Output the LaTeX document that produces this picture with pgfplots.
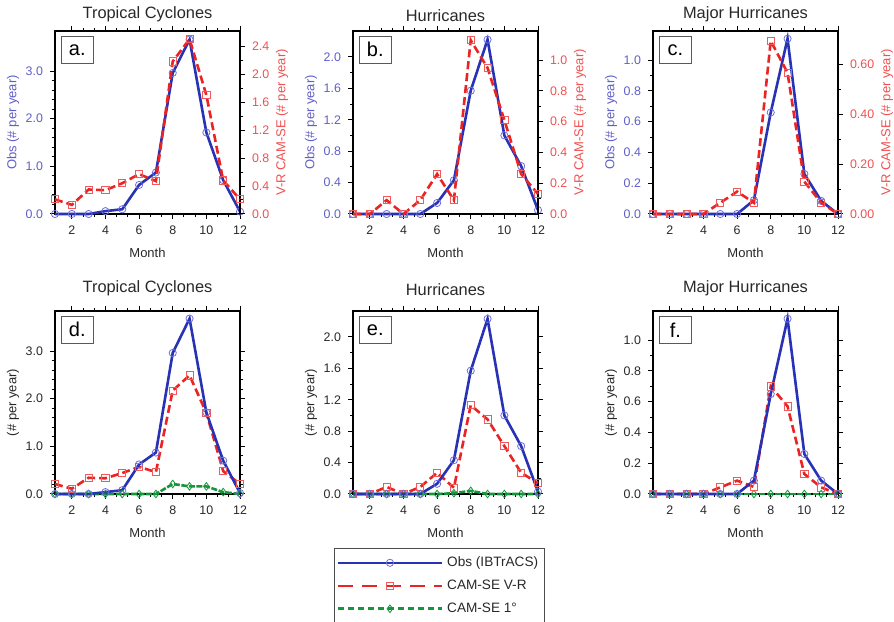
\documentclass[border=0pt]{standalone}
\usepackage{fontspec}
\setmainfont{Liberation Sans}
\usepackage{pgfplots}
\pgfplotsset{compat=1.18}

\definecolor{obsblue}{RGB}{40,50,180}
\definecolor{obsmark}{RGB}{110,110,220}
\definecolor{vrred}{RGB}{235,35,35}
\definecolor{vrmark}{RGB}{240,90,90}
\definecolor{onegreen}{RGB}{20,150,60}
\definecolor{lblblue}{RGB}{95,95,200}
\definecolor{lblred}{RGB}{240,80,80}
\definecolor{txt}{RGB}{40,40,40}

\tikzset{
  panellabel/.style={draw=black!65, line width=0.4pt, fill=white, anchor=north west,
    font=\fontsize{10}{11}\selectfont, minimum width=16pt, minimum height=13.5pt, inner sep=1pt},
}

\pgfplotsset{
  panel/.style={
    scale only axis, width=92.5pt, height=91.5pt,
    xmin=1, xmax=12, xtick={2,4,...,12}, minor x tick num=2,
    ymin=0, clip=false,
    tick align=outside, major tick length=2.5pt, minor tick length=1.5pt,
    tick style={black, line width=0.5pt},
    axis line style={line width=0.8pt},
    tick label style={font=\fontsize{6.2}{7}\selectfont, txt},
    label style={font=\fontsize{6.5}{7}\selectfont, txt},
    title style={font=\fontsize{8.2}{9}\selectfont, txt},
    ylabel shift=-3.5pt,
    /pgf/number format/assume math mode=true,
    yticklabel style={/pgf/number format/fixed, /pgf/number format/fixed zerofill, /pgf/number format/precision=1},
    xticklabel style={/pgf/number format/precision=0},
    xlabel={Month},
  },
  obs/.style={obsblue, solid, line width=1.3pt, mark=o, mark size=1.8pt,
    mark options={solid, line width=0.4pt, obsmark}},
  vr/.style={vrred, line width=1.3pt, dash pattern=on 4pt off 2pt, mark=square, mark size=1.8pt,
    mark options={solid, line width=0.4pt, vrmark}},
  one/.style={onegreen, line width=1.3pt, dash pattern=on 3pt off 0.8pt, mark=diamond, mark size=1.9pt,
    mark options={solid, line width=0.4pt, onegreen}},
  obsleg/.style={legend image code/.code={\draw[mark repeat=2, mark phase=2, ##1] plot coordinates {(0pt,0pt) (26pt,0pt) (52pt,0pt)};}},
  vrleg/.style={legend image code/.code={\draw[mark repeat=2, mark phase=2, ##1, dash pattern=on 7.5pt off 4.5pt] plot coordinates {(0pt,0pt) (26pt,0pt) (52pt,0pt)};}},
  oneleg/.style={legend image code/.code={\draw[mark repeat=2, mark phase=2, ##1, dash pattern=on 3pt off 2pt] plot coordinates {(0pt,0pt) (26pt,0pt) (52pt,0pt)};}},
  leftax/.style={panel, ytick pos=left, ylabel={Obs (\# per year)},
    ylabel style={lblblue}, yticklabel style={lblblue}, title style={yshift=-5pt}},
  rightax/.style={panel, axis y line*=right, axis x line=none, xlabel={},
    ylabel={V-R CAM-SE (\# per year)}, ylabel style={lblred}, yticklabel style={lblred}},
  botax/.style={panel, ylabel={(\# per year)}, title style={yshift=-2pt}},
}

\begin{document}
\begin{tikzpicture}
\path[use as bounding box] (0,0) rectangle (447pt,310.5pt);

% ---------- a. ----------
\begin{axis}[leftax, at={(27.5pt,203.5pt)}, anchor=south west,
    ymax=3.84, ytick={0,1,2,3}, minor y tick num=4, title={Tropical Cyclones}]
  \addplot[obs] coordinates {(1,0) (2,0) (3,0) (4,0.06) (5,0.1) (6,0.61) (7,0.87) (8,2.96) (9,3.66) (10,1.71) (11,0.71) (12,0.05)};
  \node[panellabel] at (rel axis cs:0.032,0.973) {a.};
\end{axis}
\begin{axis}[rightax, at={(27.5pt,203.5pt)}, anchor=south west,
    ymax=2.615, ytick={0,0.4,...,2.4}, minor y tick num=1]
  \addplot[vr] coordinates {(1,0.21) (2,0.13) (3,0.35) (4,0.34) (5,0.44) (6,0.57) (7,0.47) (8,2.18) (9,2.50) (10,1.70) (11,0.48) (12,0.21)};
\end{axis}

% ---------- b. ----------
\begin{axis}[leftax, at={(176.5pt,203.5pt)}, anchor=south west,
    ymax=2.33, ytick={0,0.4,...,2.0}, minor y tick num=1, title={Hurricanes}]
  \addplot[obs] coordinates {(1,0) (2,0) (3,0) (4,0) (5,0) (6,0.14) (7,0.43) (8,1.57) (9,2.22) (10,1.0) (11,0.61) (12,0.05)};
  \node[panellabel] at (rel axis cs:0.032,0.973) {b.};
\end{axis}
\begin{axis}[rightax, at={(176.5pt,203.5pt)}, anchor=south west,
    ymax=1.19, ytick={0,0.2,...,1.0}, minor y tick num=1]
  \addplot[vr] coordinates {(1,0) (2,0) (3,0.09) (4,0) (5,0.09) (6,0.26) (7,0.09) (8,1.13) (9,0.95) (10,0.61) (11,0.26) (12,0.13)};
\end{axis}

% ---------- c. ----------
\begin{axis}[leftax, at={(326.5pt,203.5pt)}, anchor=south west,
    ymax=1.19, ytick={0,0.2,...,1.0}, minor y tick num=1, title={Major Hurricanes}]
  \addplot[obs] coordinates {(1,0) (2,0) (3,0) (4,0) (5,0) (6,0) (7,0.09) (8,0.66) (9,1.14) (10,0.26) (11,0.085) (12,0)};
  \node[panellabel] at (rel axis cs:0.032,0.973) {c.};
\end{axis}
\begin{axis}[rightax, at={(326.5pt,203.5pt)}, anchor=south west,
    ymax=0.735, ytick={0,0.2,0.4,0.6}, minor y tick num=1,
    yticklabel style={/pgf/number format/precision=2}]
  \addplot[vr] coordinates {(1,0) (2,0) (3,0) (4,0) (5,0.045) (6,0.09) (7,0.045) (8,0.695) (9,0.567) (10,0.13) (11,0.045) (12,0)};
\end{axis}

% ---------- d. ----------
\begin{axis}[botax, at={(27.5pt,63.5pt)}, anchor=south west,
    ymax=3.84, ytick={0,1,2,3}, minor y tick num=4, title={Tropical Cyclones}]
  \addplot[one] coordinates {(1,0) (2,0) (3,0) (4,0) (5,0) (6,0) (7,0) (8,0.21) (9,0.16) (10,0.16) (11,0.04) (12,0)};
  \addplot[vr] coordinates {(1,0.21) (2,0.11) (3,0.34) (4,0.33) (5,0.44) (6,0.57) (7,0.46) (8,2.17) (9,2.49) (10,1.70) (11,0.48) (12,0.21)};
  \addplot[obs] coordinates {(1,0) (2,0) (3,0) (4,0.04) (5,0.08) (6,0.62) (7,0.87) (8,2.96) (9,3.68) (10,1.71) (11,0.70) (12,0.02)};
  \node[panellabel] at (rel axis cs:0.032,0.973) {d.};
\end{axis}

% ---------- e. ----------
\begin{axis}[botax, at={(176.5pt,63.5pt)}, anchor=south west,
    ymax=2.33, ytick={0,0.4,...,2.0}, minor y tick num=1, title={Hurricanes},
    legend style={at={(0.467,-0.295)}, anchor=north, draw=black!70, line width=0.4pt,
      font=\fontsize{6.8}{7.5}\selectfont, text=txt, row sep=1.2pt, inner xsep=1pt, inner ysep=2pt},
    legend cell align=left, reverse legend]
  \addplot[one, oneleg]
    coordinates {(1,0) (2,0) (3,0) (4,0) (5,0) (6,0) (7,0.01) (8,0.04) (9,0) (10,0) (11,0) (12,0)};
  \addlegendentry{CAM-SE 1°}
  \addplot[vr, vrleg]
    coordinates {(1,0) (2,0) (3,0.09) (4,0) (5,0.09) (6,0.27) (7,0.08) (8,1.13) (9,0.95) (10,0.61) (11,0.27) (12,0.14)};
  \addlegendentry{CAM-SE V-R}
  \addplot[obs, obsleg] coordinates {(1,0) (2,0) (3,0) (4,0) (5,0) (6,0.13) (7,0.43) (8,1.57) (9,2.23) (10,1.0) (11,0.61) (12,0.03)};
  \addlegendentry{Obs (IBTrACS)}
  \node[panellabel] at (rel axis cs:0.032,0.973) {e.};
\end{axis}

% ---------- f. ----------
\begin{axis}[botax, at={(326.5pt,63.5pt)}, anchor=south west,
    ymax=1.19, ytick={0,0.2,...,1.0}, minor y tick num=1, title={Major Hurricanes}]
  \addplot[one] coordinates {(1,0) (2,0) (3,0) (4,0) (5,0) (6,0) (7,0) (8,0) (9,0) (10,0) (11,0) (12,0)};
  \addplot[vr] coordinates {(1,0) (2,0) (3,0) (4,0) (5,0.043) (6,0.087) (7,0.046) (8,0.70) (9,0.57) (10,0.13) (11,0.043) (12,0)};
  \addplot[obs] coordinates {(1,0) (2,0) (3,0) (4,0) (5,0) (6,0) (7,0.087) (8,0.65) (9,1.14) (10,0.26) (11,0.087) (12,0)};
  \node[panellabel] at (rel axis cs:0.032,0.973) {f.};
\end{axis}
\end{tikzpicture}
\end{document}
